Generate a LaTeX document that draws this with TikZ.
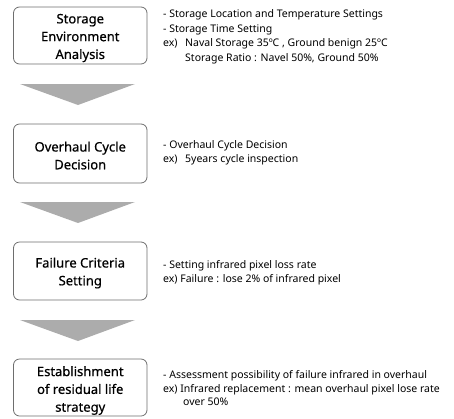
\documentclass[tikz,border=0pt]{standalone}
\usepackage{fontspec}
\setmainfont{Noto Sans}
\newfontfamily\boxfont{Noto Sans}[FakeBold=0.6]
\begin{document}
\begin{tikzpicture}[x=1pt,y=-1pt,
  stagebox/.style={draw={rgb,255:red,110;green,110;blue,110}, line width=0.8pt, rounded corners=6pt, fill=white,
    minimum width=133.5pt, inner sep=0pt},
  stagetext/.style={inner sep=0pt, align=center,
    font=\boxfont\fontsize{13}{17.8}\selectfont},
  note/.style={anchor=north west, inner sep=0pt, align=left,
    font=\fontsize{10.5}{14.5}\selectfont},
  blockarrow/.style={fill={rgb,255:red,172;green,172;blue,172}, draw=none}]
\useasboundingbox (0,0) rectangle (454,418);
\node[stagebox, minimum height=57pt] (b1) at (80.25,35.5) {};
\node[stagebox, minimum height=59pt] (b2) at (80.25,153.5) {};
\node[stagebox, minimum height=58pt] (b3) at (80.25,271) {};
\node[stagebox, minimum height=57pt] (b4) at (80.25,387.5) {};
\node[stagetext] (b1t) at ([yshift=-2.5pt]b1.center) {Storage\\Environment\\Analysis};
\node[stagetext] (b2t) at ([yshift=-2pt]b2.center) {Overhaul Cycle\\Decision};
\node[stagetext] (b3t) at ([yshift=-2pt]b3.center) {Failure Criteria\\Setting};
\node[stagetext] (b4t) at ([yshift=-3pt]b4.center) {Establishment\\of residual life\\strategy};
% block arrows
\coordinate (a1) at (78,84);
\coordinate (a2) at (78,202);
\coordinate (a3) at (78,320);
\foreach \c in {a1,a2,a3}{
  \fill[blockarrow] ([xshift=-58pt]\c) -- ([xshift=57pt]\c) -- ([yshift=-21pt]\c) -- cycle;
}
\node[note] (t1) at (163,9.5) {- Storage Location and Temperature Settings\\- Storage Time Setting\\\makebox[22pt][l]{ex)}Naval Storage 35ºC , Ground benign 25ºC\\\hspace*{22pt}Storage Ratio : Navel 50\%, Ground 50\%};
\node[note] (t2) at (163,140) {- Overhaul Cycle Decision\\\makebox[22pt][l]{ex)}5years cycle inspection};
\node[note] (t3) at (163,260) {- Setting infrared pixel loss rate\\ex) Failure : lose 2\% of infrared pixel};
\node[note, font=\fontsize{10.5}{13.5}\selectfont] (t4) at (163,370.5) {- Assessment possibility of failure infrared in overhaul\\ex) Infrared replacement : mean overhaul pixel lose rate\\\hspace*{20pt}over 50\%};
\end{tikzpicture}
\end{document}
